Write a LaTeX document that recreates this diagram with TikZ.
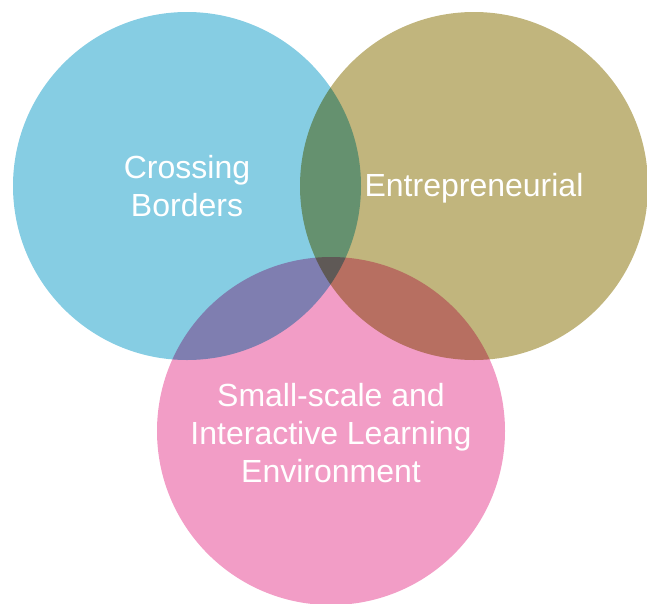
\documentclass[tikz,border=0pt]{standalone}
\usepackage{fontspec}
\setmainfont{Liberation Sans}
\definecolor{crossblue}{HTML}{86CDE3}
\definecolor{entolive}{HTML}{C1B57D}
\definecolor{smallpink}{HTML}{F29DC6}

\begin{document}
\begin{tikzpicture}[x=1pt,y=-1pt]
   \useasboundingbox (0,0) rectangle (647,603);
   \begin{scope}[blend group=multiply, every node/.style={circle,inner sep=0pt,minimum size=348pt}]
    \node[fill=crossblue] (cb) at (187,186) {};
    \node[fill=entolive] (en) at (474,186) {};
    \node[fill=smallpink] (sl) at (331,431) {};
   \end{scope}
   \begin{scope}[every node/.style={text=white,align=center,font=\fontsize{32}{38}\selectfont}]
    \node (tcb) at (cb) {Crossing\\Borders};
    \node (ten) at ([yshift=-2pt]en) {Entrepreneurial};
    \node (tsl) at ([yshift=-2pt]sl) {Small-scale and\\Interactive Learning\\Environment};
   \end{scope}
\end{tikzpicture}
\end{document}
